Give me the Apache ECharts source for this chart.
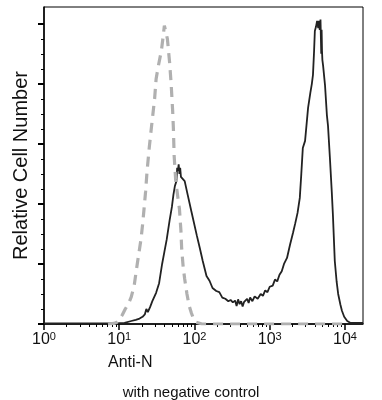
<!DOCTYPE html>
<html>
<head>
<meta charset="utf-8">
<script src="https://cdn.jsdelivr.net/npm/echarts@6/dist/echarts.min.js"></script>
<style>html,body{margin:0;padding:0;background:#fff}#c{width:382px;height:400px}</style>
</head>
<body>
<div id="c"></div>
<script>
// x values are log10 of fluorescence intensity (Anti-N)
const decadeTicks = [0, 1, 2, 3, 4];
const tickExponents = ['0', '1', '2', '3', '4'];
const yMajorTicks = [0, 1, 2, 3, 4, 5];
const yMinorTicks = [0.25, 0.5, 0.75, 1.25, 1.5, 1.75, 2.25, 2.5, 2.75, 3.25, 3.5, 3.75, 4.25, 4.5, 4.75];

const sampleLogX = [0, 0.5, 0.9, 1.07, 1.16, 1.22, 1.27, 1.31, 1.34, 1.36, 1.38, 1.41, 1.44, 1.49, 1.53, 1.57, 1.60, 1.63, 1.67, 1.70, 1.72, 1.74, 1.76, 1.77, 1.78, 1.79, 1.80, 1.81, 1.82, 1.84, 1.87, 1.91, 1.96, 2.03, 2.07, 2.11, 2.16, 2.20, 2.24, 2.29, 2.33, 2.37, 2.41, 2.45, 2.48, 2.51, 2.54, 2.56, 2.58, 2.60, 2.62, 2.64, 2.66, 2.68, 2.70, 2.72, 2.74, 2.77, 2.80, 2.84, 2.88, 2.91, 2.94, 2.97, 3.00, 3.04, 3.07, 3.10, 3.13, 3.16, 3.19, 3.23, 3.27, 3.31, 3.34, 3.37, 3.40, 3.42, 3.44, 3.47, 3.51, 3.54, 3.56, 3.575, 3.59, 3.60, 3.615, 3.63, 3.645, 3.655, 3.665, 3.675, 3.685, 3.69, 3.695, 3.70, 3.71, 3.735, 3.76, 3.775, 3.80, 3.825, 3.84, 3.865, 3.89, 3.91, 3.94, 3.96, 3.99, 4.03, 4.07, 4.24];
const sampleCount = [0.01, 0.01, 0.01, 0.02, 0.05, 0.07, 0.09, 0.12, 0.16, 0.25, 0.2, 0.28, 0.38, 0.52, 0.68, 1.0, 1.2, 1.4, 1.73, 1.95, 2.15, 2.3, 2.38, 2.6, 2.55, 2.66, 2.5, 2.6, 2.45, 2.47, 2.38, 2.15, 1.87, 1.48, 1.27, 1.05, 0.8, 0.72, 0.6, 0.55, 0.53, 0.44, 0.42, 0.38, 0.40, 0.36, 0.39, 0.3, 0.41, 0.33, 0.38, 0.29, 0.37, 0.34, 0.42, 0.35, 0.44, 0.38, 0.46, 0.42, 0.5, 0.47, 0.56, 0.53, 0.62, 0.64, 0.74, 0.71, 0.82, 0.88, 1.0, 1.1, 1.32, 1.52, 1.68, 1.85, 2.1, 2.5, 2.93, 3.05, 3.6, 3.85, 4.0, 4.15, 4.55, 4.88, 4.95, 5.05, 4.93, 5.05, 4.9, 5.07, 4.5, 4.9, 4.55, 4.4, 4.3, 3.98, 3.48, 3.3, 2.77, 2.2, 1.82, 1.05, 0.7, 0.5, 0.32, 0.22, 0.12, 0.05, 0.02, 0.02];

const controlLogX = [0.85, 0.93, 0.97, 1.0, 1.04, 1.08, 1.12, 1.16, 1.2, 1.23, 1.26, 1.29, 1.31, 1.33, 1.35, 1.37, 1.40, 1.43, 1.47, 1.49, 1.52, 1.56, 1.58, 1.60, 1.62, 1.64, 1.67, 1.69, 1.71, 1.72, 1.73, 1.75, 1.78, 1.80, 1.82, 1.83, 1.85, 1.87, 1.90, 1.93, 1.96, 1.99, 2.02, 2.1, 2.5, 3.0, 3.5, 4.0];
const controlCount = [0, 0.01, 0.03, 0.07, 0.15, 0.25, 0.33, 0.45, 0.65, 0.92, 1.17, 1.42, 1.65, 1.92, 2.2, 2.55, 2.95, 3.3, 3.75, 4.08, 4.3, 4.55, 4.75, 4.97, 4.95, 4.75, 4.35, 4.0, 3.55, 3.25, 2.8, 2.4, 2.1, 1.92, 1.55, 1.25, 0.95, 0.75, 0.5, 0.3, 0.18, 0.08, 0.03, 0, 0, 0, 0, 0];

const xMinorTicks = [];
for (let d = 0; d < 4; d++) for (let k = 2; k <= 9; k++) xMinorTicks.push(d + Math.log10(k));
for (let k = 2; k <= 9; k++) { const v = 4 + Math.log10(k); if (v <= 4.24) xMinorTicks.push(v); }

const FONT = '"Liberation Sans", Arial, sans-serif';
const chart = echarts.init(document.getElementById('c'), null, {renderer: 'canvas'});
const xBase = {
  type: 'value', min: 0, max: 4.24, gridIndex: 0, position: 'bottom',
  splitLine: {show: false}
};
chart.setOption({
  animation: false,
  backgroundColor: '#fff',
  grid: {left: 44, right: 19, top: 7, bottom: 76, show: true, borderColor: '#000', borderWidth: 1, backgroundColor: 'transparent'},
  title: [
    {text: 'Anti-N', left: 103, top: 350, textStyle: {fontFamily: FONT, fontSize: 16, fontWeight: 'normal', color: '#111'}},
    {text: 'with negative control', left: 'center', top: 380, textStyle: {fontFamily: FONT, fontSize: 15, fontWeight: 'normal', color: '#111'}}
  ],
  xAxis: [
    Object.assign({}, xBase, {
      axisLine: {show: true, onZero: false, lineStyle: {color: '#000', width: 1.5}},
      axisTick: {show: true, customValues: decadeTicks, length: 6, lineStyle: {color: '#000', width: 1.5}},
      axisLabel: {
        show: true, customValues: decadeTicks, margin: 7,
        formatter: function (v) { return '{a|10}{b|' + tickExponents[Math.round(v)] + '}'; },
        rich: {
          a: {fontFamily: FONT, fontSize: 16, color: '#111', verticalAlign: 'bottom', lineHeight: 17},
          b: {fontFamily: FONT, fontSize: 11, color: '#111', verticalAlign: 'top', lineHeight: 17, padding: [0, 0, 6, 0]}
        }
      }
    }),
    Object.assign({}, xBase, {
      axisLine: {show: false},
      axisTick: {show: true, customValues: xMinorTicks, length: 3, lineStyle: {color: '#000', width: 1}},
      axisLabel: {show: false}
    })
  ],
  yAxis: [
    {
      type: 'value', min: 0, max: 5.28,
      name: 'Relative Cell Number', nameLocation: 'middle', nameGap: 13, nameRotate: 90,
      nameTextStyle: {fontFamily: FONT, fontSize: 20, color: '#111'},
      axisLine: {show: true, onZero: false, lineStyle: {color: '#000', width: 1.5}},
      axisTick: {show: true, customValues: yMajorTicks, length: 6, lineStyle: {color: '#000', width: 2}},
      axisLabel: {show: false},
      splitLine: {show: false}
    },
    {
      type: 'value', min: 0, max: 5.28, position: 'left',
      axisLine: {show: false},
      axisTick: {show: true, customValues: yMinorTicks, length: 3, lineStyle: {color: '#000', width: 1}},
      axisLabel: {show: false},
      splitLine: {show: false}
    }
  ],
  series: [
    {
      type: 'line', xAxisIndex: 0, yAxisIndex: 0, showSymbol: false, symbol: 'none',
      data: sampleLogX.map((x, i) => [x, sampleCount[i]]),
      lineStyle: {color: '#222', width: 1.8}, z: 3
    },
    {
      type: 'line', xAxisIndex: 0, yAxisIndex: 0, showSymbol: false, symbol: 'none',
      data: controlLogX.map((x, i) => [x, controlCount[i]]),
      lineStyle: {color: '#b0b0b0', width: 3.2, type: [10, 7]}, z: 4
    }
  ]
});
</script>
</body>
</html>
